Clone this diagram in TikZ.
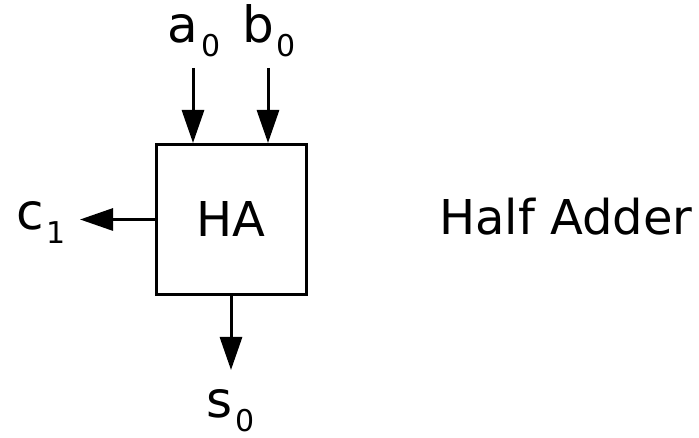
\documentclass[tikz,border=0pt]{standalone}
\usepackage{fontspec}
\setmainfont{DejaVu Sans}
\usetikzlibrary{arrows.meta}
\newcommand{\subz}[1]{\hspace{3pt}\raisebox{-14pt}{\fontsize{30}{30}\selectfont #1}}
\begin{document}
\begin{tikzpicture}[x=1pt,y=1pt,
  sig/.style={line width=3pt,-{Triangle[length=33pt,width=22pt]}},
  lbl/.style={inner sep=0pt,anchor=base,font=\fontsize{50}{54}\selectfont},
  blk/.style={draw,line width=3pt,minimum size=150pt,inner sep=0pt,font=\fontsize{48}{52}\selectfont}]
\useasboundingbox (0,0) rectangle (699,438);
\node[blk] (ha) at (231,218.5) {HA};
\node[lbl] (la) at (194,395) {a\subz{0}};
\node[lbl] (lb) at (269,395) {b\subz{0}};
\node[lbl] (lc) at (41,208) {c\subz{1}};
\node[lbl] (ls) at (231,20) {s\subz{0}};
\node[inner sep=0pt,anchor=base west,font=\fontsize{48}{52}\selectfont] (title) at (439,203) {Half Adder};
\coordinate (ta) at (193,370);
\coordinate (tb) at (268,370);
\coordinate (tc) at (80,218.5);
\coordinate (ts) at (231,68);
\draw[sig] (ta) -- (ta |- ha.north);
\draw[sig] (tb) -- (tb |- ha.north);
\draw[sig] (ha.west) -- (tc);
\draw[sig] (ha.south) -- (ts);
\end{tikzpicture}
\end{document}
